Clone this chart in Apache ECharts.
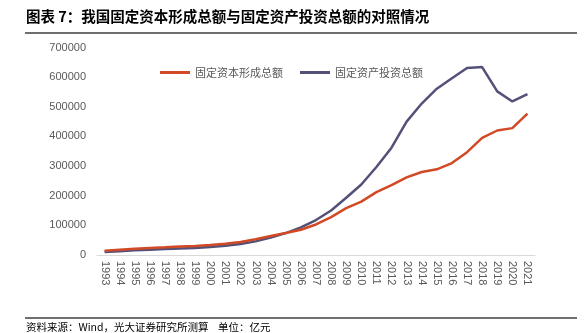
<!DOCTYPE html>
<html><head><meta charset="utf-8">
<script src="https://cdn.jsdelivr.net/npm/echarts@6/dist/echarts.min.js"></script>
<style>
html,body{margin:0;padding:0;background:#fff;}
#wrap{position:relative;width:585px;height:333px;overflow:hidden;}
#title{position:absolute;left:26px;top:5px;font:bold 14.5px "Noto Sans CJK SC",sans-serif;color:#000;white-space:nowrap;}
#l1{position:absolute;left:25px;top:32px;width:552px;height:2px;background:#6e6e6e;}
#l2{position:absolute;left:25px;top:317px;width:552px;height:2px;background:#6e6e6e;}
#foot{position:absolute;left:26px;top:319px;font:10.5px "Noto Sans CJK SC",sans-serif;color:#000;white-space:nowrap;}
#chart{position:absolute;left:0;top:0;width:585px;height:333px;}
</style></head>
<body><div id="wrap">
<div id="chart"></div>
<div id="title">图表 7：我国固定资本形成总额与固定资产投资总额的对照情况</div>
<div id="l1"></div>
<div id="l2"></div>
<div id="foot">资料来源：Wind，光大证券研究所测算&nbsp;&nbsp;&nbsp;&nbsp;单位：亿元</div>
</div>
<script>
var years = ["1993","1994","1995","1996","1997","1998","1999","2000","2001","2002","2003","2004","2005","2006","2007","2008","2009","2010","2011","2012","2013","2014","2015","2016","2017","2018","2019","2020","2021"];
var capitalFormation = [14000,18000,21000,24000,26000,28500,30500,34000,38000,44000,53000,64000,74000,85000,103000,128000,158000,180000,212000,236000,262000,280000,289000,310000,347000,395000,420000,428000,477000];
var fixedInvestment = [10000,13000,16000,18000,20000,22000,24000,27000,31000,37000,46000,59000,74000,93000,118000,150000,193000,238000,297000,362000,450000,511000,561000,596000,631000,634000,552000,518000,543000];
var seriesNames = ["固定资本形成总额","固定资产投资总额"];

var chart = echarts.init(document.getElementById('chart'));
chart.setOption({
  animation:false,
  legend:{
    left:155, top:62, padding:5,
    icon:'rect', itemWidth:30, itemHeight:3, itemGap:17,
    textStyle:{color:'#595959', fontSize:11, fontFamily:'"Noto Sans CJK SC",sans-serif'},
    data:seriesNames
  },
  grid:{left:97, right:50, top:47.5, bottom:78},
  xAxis:{
    type:'category', data:years, boundaryGap:true,
    axisLine:{lineStyle:{color:'#d9d9d9'}},
    axisTick:{length:3, lineStyle:{color:'#d9d9d9'}},
    axisLabel:{rotate:-90, interval:0, color:'#595959', fontSize:11, margin:6, fontFamily:'"Liberation Sans",sans-serif'}
  },
  yAxis:{
    type:'value', min:0, max:700000, interval:100000,
    axisLine:{show:false}, axisTick:{show:false}, splitLine:{show:false},
    axisLabel:{color:'#595959', fontSize:11, margin:11, fontFamily:'"Liberation Sans",sans-serif',
      formatter:function(v){return String(v);}}
  },
  series:[
    {name:seriesNames[0], type:'line', data:capitalFormation, symbol:'none', smooth:false,
     lineStyle:{color:'#D24A25', width:2.5}, itemStyle:{color:'#D24A25'}, z:3},
    {name:seriesNames[1], type:'line', data:fixedInvestment, symbol:'none', smooth:false,
     lineStyle:{color:'#545178', width:2.5}, itemStyle:{color:'#545178'}, z:2}
  ]
});
</script>
</body></html>
